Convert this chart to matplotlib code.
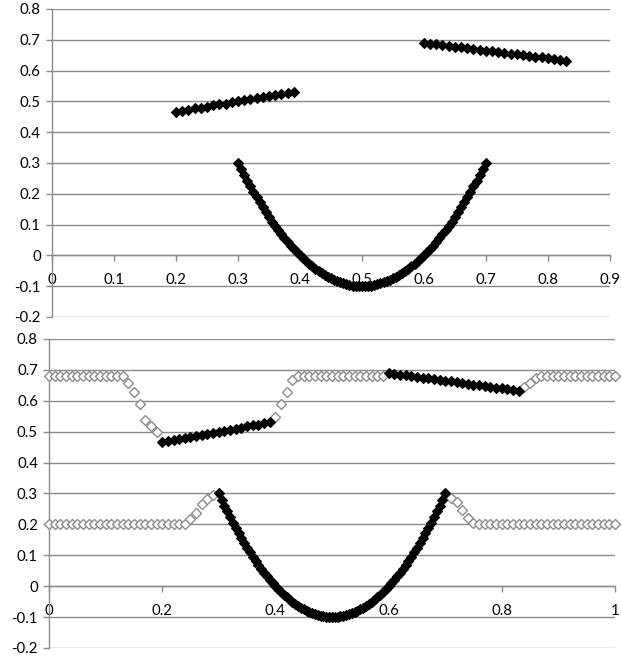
import matplotlib
matplotlib.use('Agg')
import matplotlib.pyplot as plt

plt.rcParams['font.family'] = ['Lato', 'DejaVu Sans']

# --- data ---
line1_x = [0.20, 0.21, 0.22, 0.23, 0.24, 0.25, 0.26, 0.27, 0.28, 0.29,
           0.30, 0.31, 0.32, 0.33, 0.34, 0.35, 0.36, 0.37, 0.38, 0.39]
line1_y = [0.467, 0.470, 0.473, 0.477, 0.480, 0.483, 0.487, 0.490, 0.493, 0.497,
           0.500, 0.503, 0.507, 0.510, 0.513, 0.517, 0.520, 0.523, 0.527, 0.530]

line2_x = [0.60, 0.61, 0.62, 0.63, 0.64, 0.65, 0.66, 0.67, 0.68, 0.69, 0.70, 0.71,
           0.72, 0.73, 0.74, 0.75, 0.76, 0.77, 0.78, 0.79, 0.80, 0.81, 0.82, 0.83]
line2_y = [0.6900, 0.6875, 0.6850, 0.6825, 0.6800, 0.6775, 0.6750, 0.6725,
           0.6700, 0.6675, 0.6650, 0.6625, 0.6600, 0.6575, 0.6550, 0.6525,
           0.6500, 0.6475, 0.6450, 0.6425, 0.6400, 0.6375, 0.6350, 0.6325]

par_x = [0.300, 0.305, 0.310, 0.315, 0.320, 0.325, 0.330, 0.335, 0.340, 0.345,
         0.350, 0.355, 0.360, 0.365, 0.370, 0.375, 0.380, 0.385, 0.390, 0.395,
         0.400, 0.405, 0.410, 0.415, 0.420, 0.425, 0.430, 0.435, 0.440, 0.445,
         0.450, 0.455, 0.460, 0.465, 0.470, 0.475, 0.480, 0.485, 0.490, 0.495,
         0.500,
         0.505, 0.510, 0.515, 0.520, 0.525, 0.530, 0.535, 0.540, 0.545, 0.550,
         0.555, 0.560, 0.565, 0.570, 0.575, 0.580, 0.585, 0.590, 0.595, 0.600,
         0.605, 0.610, 0.615, 0.620, 0.625, 0.630, 0.635, 0.640, 0.645, 0.650,
         0.655, 0.660, 0.665, 0.670, 0.675, 0.680, 0.685, 0.690, 0.695, 0.700]
par_y = [0.300, 0.280, 0.261, 0.242, 0.224, 0.206, 0.189, 0.172, 0.156, 0.140,
         0.125, 0.110, 0.096, 0.082, 0.069, 0.056, 0.044, 0.032, 0.021, 0.010,
         0.000, -0.010, -0.019, -0.028, -0.036, -0.044, -0.051, -0.058, -0.064, -0.070,
         -0.075, -0.080, -0.084, -0.088, -0.091, -0.094, -0.096, -0.098, -0.099, -0.100,
         -0.100,
         -0.100, -0.099, -0.098, -0.096, -0.094, -0.091, -0.088, -0.084, -0.080, -0.075,
         -0.070, -0.064, -0.058, -0.051, -0.044, -0.036, -0.028, -0.019, -0.010, 0.000,
         0.010, 0.021, 0.032, 0.044, 0.056, 0.069, 0.082, 0.096, 0.110, 0.125,
         0.140, 0.156, 0.172, 0.189, 0.206, 0.224, 0.242, 0.261, 0.280, 0.300]

# grey open-diamond series (bottom panel only)
upper_x = [0.00, 0.01, 0.02, 0.03, 0.04, 0.05, 0.06, 0.07, 0.08, 0.09,
           0.10, 0.11, 0.12, 0.13, 0.14, 0.15, 0.16, 0.17, 0.18, 0.19,
           0.40, 0.41, 0.42, 0.43, 0.44, 0.45, 0.46, 0.47, 0.48, 0.49,
           0.50, 0.51, 0.52, 0.53, 0.54, 0.55, 0.56, 0.57, 0.58, 0.59,
           0.84, 0.85, 0.86, 0.87, 0.88, 0.89, 0.90, 0.91, 0.92, 0.93,
           0.94, 0.95, 0.96, 0.97, 0.98, 0.99, 1.00]
upper_y = ([0.68] * 14 + [0.656, 0.629, 0.589, 0.539, 0.517, 0.499]
           + [0.549, 0.589, 0.627, 0.667] + [0.68] * 16
           + [0.643, 0.659, 0.673] + [0.68] * 14)

lower_x = [0.00, 0.01, 0.02, 0.03, 0.04, 0.05, 0.06, 0.07, 0.08, 0.09,
           0.10, 0.11, 0.12, 0.13, 0.14, 0.15, 0.16, 0.17, 0.18, 0.19,
           0.20, 0.21, 0.22, 0.23, 0.24, 0.25, 0.26, 0.27, 0.28, 0.29,
           0.71, 0.72, 0.73, 0.74, 0.75, 0.76, 0.77, 0.78, 0.79, 0.80,
           0.81, 0.82, 0.83, 0.84, 0.85, 0.86, 0.87, 0.88, 0.89, 0.90,
           0.91, 0.92, 0.93, 0.94, 0.95, 0.96, 0.97, 0.98, 0.99, 1.00]
lower_y = ([0.20] * 25 + [0.216, 0.238, 0.265, 0.281, 0.295]
           + [0.286, 0.272, 0.248, 0.222, 0.205] + [0.20] * 25)

y_ticks = [-0.2, -0.1, 0, 0.1, 0.2, 0.3, 0.4, 0.5, 0.6, 0.7, 0.8]
top_xticks = [0, 0.1, 0.2, 0.3, 0.4, 0.5, 0.6, 0.7, 0.8, 0.9]
bot_xticks = [0, 0.2, 0.4, 0.6, 0.8, 1]

GRID = '#8a8a8a'


def style_axes(ax, xmax, xticks):
    ax.set_xlim(0, xmax)
    ax.set_ylim(-0.2, 0.8)
    ax.set_yticks(y_ticks)
    ax.set_yticklabels(['%g' % v for v in y_ticks])
    ax.set_xticks(xticks)
    ax.set_xticklabels(['%g' % v for v in xticks])
    for s in ['top', 'right']:
        ax.spines[s].set_visible(False)
    ax.spines['bottom'].set_position(('data', 0))
    for s in ['bottom', 'left']:
        ax.spines[s].set_color(GRID)
        ax.spines[s].set_linewidth(1.0)
    ax.yaxis.grid(True, color=GRID, linewidth=1.0)
    ax.set_axisbelow(True)
    ax.tick_params(axis='both', colors=GRID, labelcolor='black',
                   labelsize=10.8, length=4, width=1.0, direction='out')
    ax.tick_params(axis='x', pad=9)
    ax.tick_params(axis='y', pad=4)


def black(ax, x, y):
    ax.plot(x, y, linestyle='none', marker='D', markersize=5.4,
            markerfacecolor='black', markeredgecolor='black',
            markeredgewidth=0.8, clip_on=False, zorder=4)


fig = plt.figure(figsize=(6.21, 6.6), dpi=100)
ax1 = fig.add_axes([0.0837, 0.5197, 0.8983, 0.4667])
ax2 = fig.add_axes([0.0789, 0.0182, 0.9114, 0.4682])

style_axes(ax1, 0.9, top_xticks)
black(ax1, line1_x, line1_y)
black(ax1, line2_x, line2_y)
black(ax1, par_x, par_y)

style_axes(ax2, 1.0, bot_xticks)
for gx, gy in [(upper_x, upper_y), (lower_x, lower_y)]:
    ax2.plot(gx, gy, linestyle='none', marker='D', markersize=5.6,
             markerfacecolor='white', markeredgecolor='#8c8c8c',
             markeredgewidth=1.0, clip_on=False, zorder=3)
black(ax2, line1_x, line1_y)
black(ax2, line2_x, line2_y)
black(ax2, par_x, par_y)

fig.savefig('out.png', dpi=100)
